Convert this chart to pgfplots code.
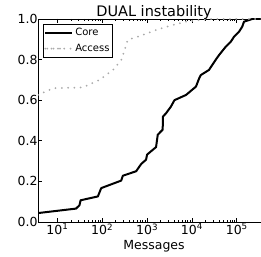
\documentclass[border=0pt]{standalone}
\usepackage{pgfplots}
\pgfplotsset{compat=1.18}
\usepackage{fontspec}
\setmainfont{DejaVu Sans}
\definecolor{accgray}{HTML}{AAAAAA}
\begin{document}
\begin{tikzpicture}
\useasboundingbox (-38pt,-34pt) rectangle (223pt,222pt);
\begin{axis}[
  at={(0pt,0pt)}, anchor=south west,
  scale only axis, width=232pt, height=203pt,
  xmode=log, xmin=3.7, xmax=5.5e5,
  ymin=0, ymax=1,
  axis line style={line width=0.8pt},
  xtick={10,100,1000,10000,100000},
  xticklabels={10\textsuperscript{1},10\textsuperscript{2},10\textsuperscript{3},10\textsuperscript{4},10\textsuperscript{5}},
  ytick={0,0.2,0.4,0.6,0.8,1.0},
  yticklabels={0.0,0.2,0.4,0.6,0.8,1.0},
  tick align=inside,
  major tick length=4pt, minor tick length=2pt,
  tick style={black, line width=0.6pt},
  ticklabel style={font=\fontsize{12.5}{14}\selectfont},
  yticklabel style={xshift=3pt},
  xticklabel style={yshift=2pt},
  xlabel={Messages},
  xlabel style={font=\fontsize{12.5}{14}\selectfont, yshift=1pt},
  title={DUAL instability},
  title style={font=\fontsize{14.5}{16}\selectfont, at={(0.5,1)}, anchor=base, yshift=-4pt},
  legend style={at={(0,1)}, anchor=north west, xshift=5pt, yshift=-5pt,
    font=\fontsize{10}{12}\selectfont, draw=black, line width=0.6pt,
    inner xsep=1pt, inner ysep=2pt, row sep=3pt},
  legend cell align=left,
  legend image code/.code={\path (0pt,0pt) -- (27pt,0pt); \draw[#1] (2pt,0pt) -- (20pt,0pt);},
]
\addplot[black, line width=2pt, line join=round] coordinates {
(3.7,0.044) (26,0.066) (31,0.082) (33,0.107) (80,0.126) (95,0.167)
(265,0.204) (288,0.228) (570,0.25) (740,0.286) (950,0.307) (1000,0.332)
(1585,0.369) (1730,0.43) (2230,0.455) (2250,0.519) (2630,0.535) (3390,0.568)
(4070,0.60) (7400,0.626) (12300,0.667) (14500,0.708) (15800,0.724)
(24000,0.749) (33600,0.798) (40400,0.823) (57000,0.864) (73500,0.888)
(87000,0.913) (112000,0.937) (132000,0.962) (145000,0.987) (222000,1.0) (5.5e5,1.0)
};
\addlegendentry{Core}
\addplot[accgray, line width=2pt, line cap=round, dash pattern=on 0pt off 6.3pt] coordinates {
(3.7,0.626) (8,0.659) (37,0.663) (87,0.70) (174,0.749) (265,0.798)
(314,0.847) (372,0.897) (800,0.921) (1585,0.946) (3700,0.970)
(7400,0.987) (14500,0.995) (27500,1.0) (5.5e5,1.0)
};
\addlegendentry{Access}
\end{axis}
\end{tikzpicture}
\end{document}
